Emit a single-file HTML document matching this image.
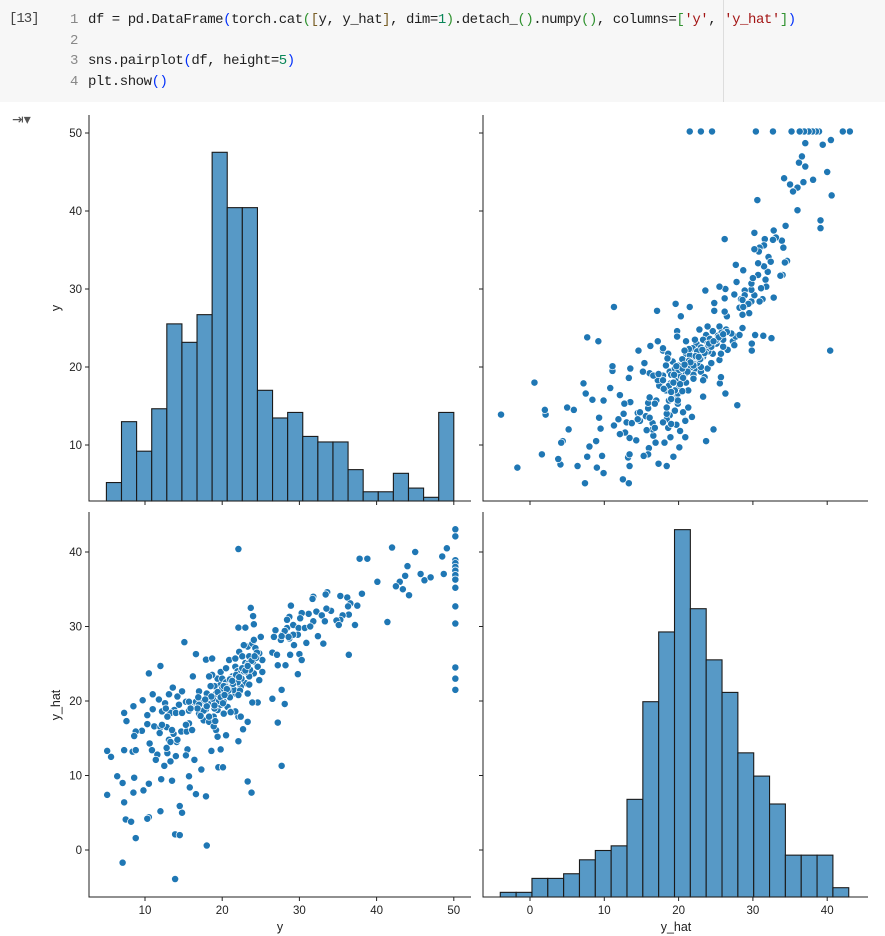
<!DOCTYPE html>
<html><head><meta charset="utf-8">
<style>
body{margin:0;width:885px;height:936px;background:#fff;position:relative;overflow:hidden;font-family:"Liberation Sans",sans-serif}
#cell{position:absolute;left:0;top:0;width:885px;height:102px;background:#f7f7f7}
#cnt{position:absolute;left:9px;top:11px;font:14px "Liberation Mono",monospace;color:#444;letter-spacing:-1px}
.ln{position:absolute;left:0;font:14px "Liberation Mono",monospace;color:#1f1f1f;white-space:pre;letter-spacing:-0.45px}
.n{color:#888;display:inline-block;width:12px;text-align:right;margin-right:2px}
.b{color:#0431fa}.g{color:#319331}.s{color:#a31515}.d{color:#098658}.y{color:#795e26}
#sep{position:absolute;left:723px;top:0;width:1px;height:102px;background:#ddd}
#ico{position:absolute;left:12px;top:111px;font-size:14px;color:#555}
svg{position:absolute;left:0;top:0}
</style></head><body>
<div id="cell">
<div id="cnt">[13]</div>
<div class="ln" style="left:66px;top:12px"><span class="n">1</span> df = pd.DataFrame<span class="b">(</span>torch.cat<span class="g">(</span><span class="y">[</span>y, y_hat<span class="y">]</span>, dim=<span class="d">1</span><span class="g">)</span>.detach_<span class="g">()</span>.numpy<span class="g">()</span>, columns=<span class="g">[</span><span class="s">'y'</span>, <span class="s">'y_hat'</span><span class="g">]</span><span class="b">)</span></div>
<div class="ln" style="left:66px;top:33px"><span class="n">2</span></div>
<div class="ln" style="left:66px;top:53px"><span class="n">3</span> sns.pairplot<span class="b">(</span>df, height=<span class="d">5</span><span class="b">)</span></div>
<div class="ln" style="left:66px;top:74px"><span class="n">4</span> plt.show<span class="b">()</span></div>
<div id="sep"></div>
</div>
<div id="ico">⇥▾</div>
<svg id="chart" width="885" height="936"></svg>
<script>
// ---- data ----
const yBinStart = 5, yBinEnd = 50;
const yCounts = [10,43,27,50,96,86,101,189,159,159,60,45,48,35,32,32,17,5,5,15,7,2,48];
const yhatBinStart = -4.0, yhatBinEnd = 42.9;
const yhatCounts = [1,1,4,4,5,8,10,11,21,42,57,79,62,51,44,31,26,20,9,9,9,2];
const yTicks = [10,20,30,40,50];
const yhatTicksX = [0,10,20,30,40];
const yhatTicksY = [0,10,20,30,40];
const yTrue = [22.1,15.1,23.7,24.0,24.1,22.1,23.0,16.6,12.0,10.5,17.9,18.7,16.2,11.0,13.2,13.6,9.7,8.5,7.3,7.6,10.3,11.0,11.8,12.6,12.2,10.3,9.6,8.8,8.6,11.2,12.0,12.8,11.9,10.6,10.9,11.6,11.4,12.5,13.3,14.0,12.9,12.8,13.1,14.1,13.7,14.7,15.4,15.5,15.3,16.4,17.3,18.6,19.8,19.5,20.1,22.1,22.7,23.3,22.1,23.3,23.8,27.2,27.7,28.1,26.5,27.7,5.1,5.6,7.3,8.4,8.8,6.4,7.1,8.6,8.5,5.1,7.3,9.8,10.5,12.1,13.5,15.7,15.8,16.6,17.9,14.5,14.8,12.0,10.5,10.3,7.5,8.2,8.8,13.9,14.5,18.0,7.1,13.9,
13.1,14.2,14.8,15.3,14.4,13.8,13.3,14.0,14.8,15.7,16.1,16.6,17.0,17.6,18.1,18.5,17.9,17.0,17.6,18.3,18.9,19.4,19.8,20.2,20.5,19.8,19.4,18.7,18.3,19.8,20.5,20.9,21.3,21.7,22.2,22.6,23.3,23.9,24.3,24.8,25.2,24.6,24.1,23.5,23.0,22.4,21.7,21.3,20.9,20.7,21.1,21.7,22.4,20.2,19.2,19.4,20.5,18.9,18.3,16.1,15.7,15.3,13.5,13.3,14.2,15.7,12.7,12.9,12.2,24.6,23.9,23.3,23.5,24.8,25.2,23.0,22.4,22.0,23.0,23.5,21.7,22.8,24.1,25.0,26.9,27.8,28.4,26.7,27.6,28.7,26.5,27.1,28.2,27.2,
19,20,21,22,18,19.5,21,22,23,24,20,17,16,19,20.5,22.5,23.5,24.5,21.5,18.5,
18.2,18.8,19.2,19.6,20.0,20.4,20.8,21.2,21.6,22.0,22.4,22.8,23.2,23.6,24.0,24.4,17.6,18.0,18.6,19.0,19.4,19.8,20.2,20.6,21.0,21.4,21.8,22.2,22.6,23.0,23.4,23.8,24.2,16.8,17.2,17.8,20.3,21.3,22.3,23.3,19.1,20.1,21.1,22.1,15.9,16.9,
50.2,50.2,50.2,50.2,50.2,50.2,50.2,50.2,50.2,50.2,50.2,50.2,50.2,50.2,49.1,48.5,48.7,45.0,44.0,43.7,43.0,42.5,43.4,44.2,45.7,46.2,47.0,42.0,37.8,38.8,40.1,38.1,41.4,36.4,37.2,37.5,36.2,35.3,36.6,36.3,36.4,35.6,35.3,34.8,35.1,34.1,33.5,33.6,33.4,31.8,31.7,28.9,32.2,32.9,33.3,31.8,31.2,30.3,30.1,28.7,28.4,29.2,29.9,30.7,31.4,32.4,33.1,30.9,29.8,29.2,28.6,28.1,27.7,29.3,28.8,30.0,30.3,28.2,29.8,27.7,28.1,27.7];
const yPred = [40.4,27.9,32.5,31.4,30.3,29.85,29.85,26.3,24.7,23.7,25.55,25.7,23.3,20.9,20.9,21.8,20.1,19.3,18.4,17.3,18.1,18.9,20.2,19.7,18.6,16.9,16.0,15.9,15.3,16.6,16.5,16.5,15.7,14.3,13.4,12.8,12.1,11.3,11.9,12.6,13.0,13.7,14.8,14.5,15.6,15.9,15.9,13.5,12.7,12.1,10.8,13.3,13.5,11.1,11.1,14.6,16.2,17.2,17.9,9.2,7.7,17.1,11.3,19.6,20.3,21.5,13.3,12.5,13.4,13.2,13.4,9.9,9.0,9.7,7.7,7.4,6.4,8.0,8.9,9.5,9.3,9.9,8.4,7.5,7.2,5.9,5.0,5.2,4.4,4.2,4.1,3.8,1.6,2.1,2.0,0.6,-1.7,-3.9,
20.9,20.6,21.3,19.9,19.5,18.8,18.4,18.4,18.4,18.7,19.2,19.9,21.3,20.1,20.8,19.9,18.9,18.3,17.4,17.2,17.9,18.8,19.5,19.9,21.0,22.2,23.0,23.5,23.3,23.9,24.4,25.5,23.3,24.6,26.6,26.0,27.3,27.7,27.1,26.4,25.5,24.6,23.7,23.3,22.4,21.9,21.0,21.9,22.4,19.2,18.6,18.6,17.9,18.3,16.1,15.2,15.4,16.6,17.9,16.1,17.0,16.8,16.1,14.5,14.8,19.9,19.0,17.9,16.8,19.8,19.8,21.0,22.2,22.8,23.9,23.9,24.2,23.7,25.1,25.1,25.7,27.5,28.2,28.6,29.5,28.9,29.8,28.6,28.2,28.4,26.5,26.2,24.8,24.8,
22,21,23,24,21,20,20.5,22.5,24.5,25.5,23,19.5,19,19,22.5,23,26,26.5,21.5,22,
19.6,20.3,21.0,20.0,21.7,22.0,21.4,22.6,23.1,22.5,23.8,24.0,24.6,24.2,25.3,25.8,18.7,19.3,20.6,19.4,21.2,20.5,22.0,21.6,22.9,22.3,23.5,23.2,24.4,24.1,25.0,25.4,26.0,19.0,18.0,20.2,20.8,22.7,21.4,24.7,17.3,19.7,18.5,20.8,19.0,20.5,
43.05,42.1,38.9,38.5,38.0,37.5,36.9,36.3,35.2,32.7,30.4,24.5,23.0,21.5,40.5,39.4,37.05,40.0,38.1,36.8,36.0,35.4,35.0,34.2,37.05,36.2,36.6,40.6,39.1,39.1,36.0,34.4,30.6,26.2,30.2,32.8,33.9,34.1,33.1,32.7,31.6,31.5,30.9,30.8,30.2,32.1,32.4,34.6,34.3,34.0,33.7,32.8,32.0,31.5,30.7,30.7,31.7,31.8,31.1,31.3,30.9,30.2,29.8,29.8,30.0,28.7,27.7,27.8,28.9,28.9,28.6,29.4,28.7,27.5,26.2,26.3,25.5,24.8,23.6,21.5,19.6,11.3];

// ---- axes ----
const X1 = v => 145 + (v - 10) * 7.72;
const X2 = v => 530 + v * 7.43;
const Y1 = v => 445 - (v - 10) * 7.8;
const Y2 = v => 850 - v * 7.45;
const C1 = c => c * 1.845;
const C2 = c => c * 4.65;
const P = {l1:89,r1:471,l2:483,r2:868,t1:115,b1:501,t2:512,b2:897};

const svg = document.getElementById('chart');
const NS = 'http://www.w3.org/2000/svg';
function mk(tag, attrs, parent){const e=document.createElementNS(NS,tag);for(const k in attrs)e.setAttribute(k,attrs[k]);(parent||svg).appendChild(e);return e;}

function hist(counts, start, end, X, base, C, name){
  const g = mk('g',{});
  
  
  const w = (end - start) / counts.length;
  counts.forEach((c,i)=>{
    const x0 = X(start + i*w), x1 = X(start + (i+1)*w), h = C(c);
    const r = mk('rect',{x:x0,y:base-h,width:x1-x0,height:h,fill:'#5799c6',stroke:'#1a1a1a','stroke-width':1.1},g);
    
    
  });
}
function scatter(xs, ys, X, Y, name){
  const g = mk('g',{});
  
  
  xs.forEach((v,i)=>{
    const c = mk('circle',{cx:X(v),cy:Y(ys[i]),r:3.6,fill:'#1f77b4',stroke:'#fff','stroke-width':0.7},g);
    
    
  });
}
function spines(l,r,t,b,name){
  const a = mk('path',{d:`M${l} ${t}V${b}H${r}`,fill:'none',stroke:'#222','stroke-width':1});
  
  
}
function xticks(ticks, X, b, labels, name){
  ticks.forEach(t=>{
    mk('line',{x1:X(t),x2:X(t),y1:b,y2:b+4,stroke:'#222'});
    if(labels){
      const tx = mk('text',{x:X(t),y:b+17,'text-anchor':'middle','font-size':11.5,fill:'#222','font-family':'Liberation Sans, sans-serif'});
      tx.textContent = t;
      
      
    }
  });
}
function yticks(ticks, Y, l, labels, name){
  ticks.forEach(t=>{
    mk('line',{x1:l-4,x2:l,y1:Y(t),y2:Y(t),stroke:'#222'});
    if(labels){
      const tx = mk('text',{x:l-7,y:Y(t)+4,'text-anchor':'end','font-size':11.5,fill:'#222','font-family':'Liberation Sans, sans-serif'});
      tx.textContent = t;
      
      
    }
  });
}

hist(yCounts, yBinStart, yBinEnd, X1, P.b1, C1, 'hist-y');
scatter(yPred, yTrue, X2, Y1, 'scatter-yhat-vs-y');
scatter(yTrue, yPred, X1, Y2, 'scatter-y-vs-yhat');
hist(yhatCounts, yhatBinStart, yhatBinEnd, X2, P.b2, C2, 'hist-yhat');

spines(P.l1,P.r1,P.t1,P.b1,'panel-top-left');
spines(P.l2,P.r2,P.t1,P.b1,'panel-top-right');
spines(P.l1,P.r1,P.t2,P.b2,'panel-bottom-left');
spines(P.l2,P.r2,P.t2,P.b2,'panel-bottom-right');

xticks(yTicks, X1, P.b1, false, 'top-left-x');
xticks(yhatTicksX, X2, P.b1, false, 'top-right-x');
xticks(yTicks, X1, P.b2, true, 'x-axis-y');
xticks(yhatTicksX, X2, P.b2, true, 'x-axis-yhat');
yticks(yTicks, Y1, P.l1, true, 'y-axis-y');
yticks(yTicks, Y1, P.l2, false, 'top-right-y');
yticks(yhatTicksY, Y2, P.l1, true, 'y-axis-yhat');
yticks(yhatTicksY, Y2, P.l2, false, 'bottom-right-y');

function label(txt,x,y,rot,name){
  const t = mk('text',{x:x,y:y,'text-anchor':'middle','font-size':12.5,fill:'#222','font-family':'Liberation Sans, sans-serif'});
  if(rot) t.setAttribute('transform',`rotate(-90 ${x} ${y})`);
  t.textContent = txt;
  
  
}
label('y',280,931,false,'x-axis-title-y');
label('y_hat',676,931,false,'x-axis-title-yhat');
label('y',60,308,true,'y-axis-title-y');
label('y_hat',60,705,true,'y-axis-title-yhat');
</script>
</body></html>
